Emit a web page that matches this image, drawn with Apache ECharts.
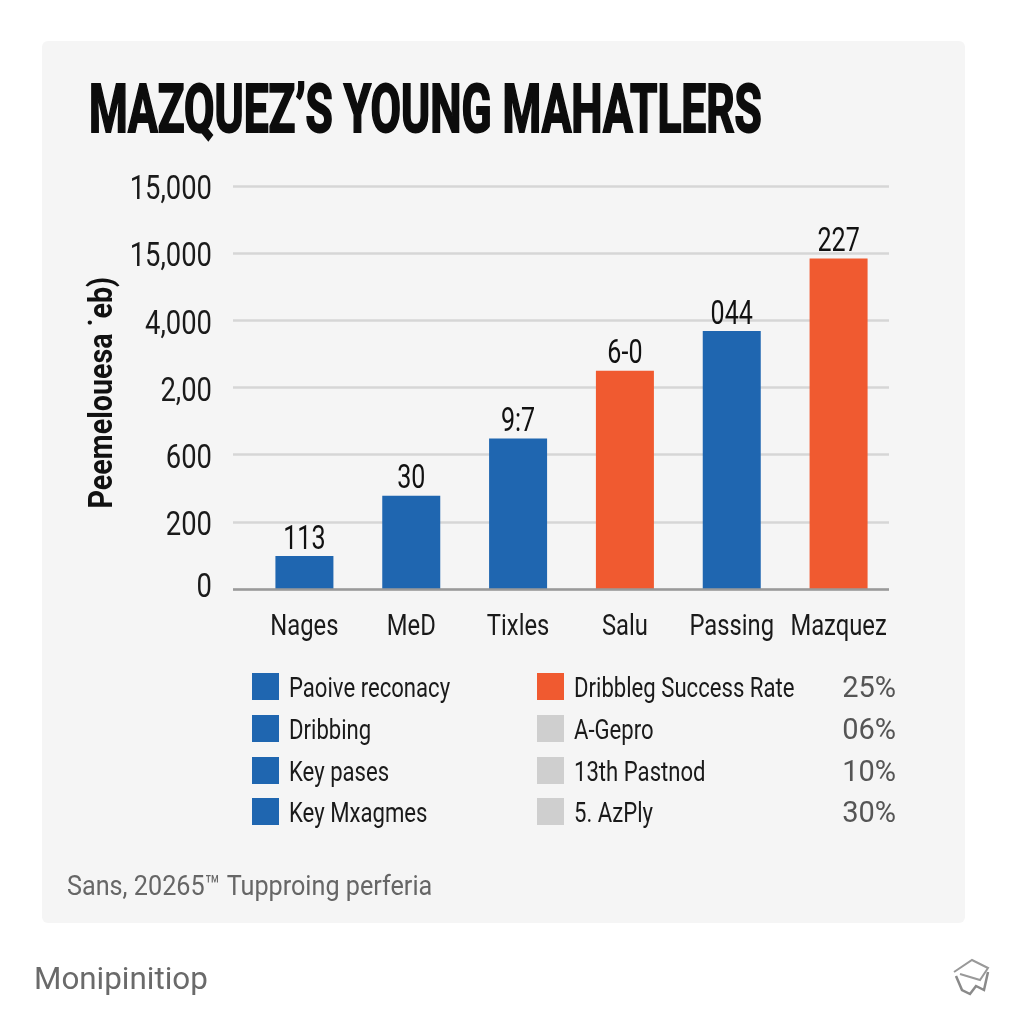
<!DOCTYPE html>
<html><head><meta charset="utf-8">
<style>html,body{margin:0;padding:0;background:#fff}#c{width:1024px;height:1024px}</style>
<script src="https://cdn.jsdelivr.net/npm/echarts@6/dist/echarts.min.js"></script>
</head><body><div id="c"></div>
<script>
const titleText = "MAZQUEZ’S YOUNG MAHATLERS";
const yAxisName = "Peemelouesa ˙eb)";
const categories = ["Nages","MeD","Tixles","Salu","Passing","Mazquez"];
const yTickLabels = ["0","200","600","2,00","4,000","15,000","15,000"];
const barValues = [0.49,1.39,2.24,3.25,3.84,4.92];
const barLabels = ["113","30","9:7","6-0","044","227"];
const barKinds = ["blue","blue","blue","orange","blue","orange"];
const legendLeft = ["Paoive reconacy","Dribbing","Key pases","Key Mxagmes"];
const legendRight = ["Dribbleg Success Rate","A-Gepro","13th Pastnod","5. AzPly"];
const legendRightKinds = ["orange","grey","grey","grey"];
const legendPercents = ["25%","06%","10%","30%"];
const sourceText = "Sans, 20265™ Tupproing perferia";
const footerText = "Monipinitiop";

const colors = {blue:"#1f66b0",orange:"#f05a30",grey:"#cfcfcf"};
const font = "Roboto,'Liberation Sans',sans-serif";
const rowY = [687,729,771,812];

const g = [];
g.push({type:'rect',z:-10,shape:{x:42,y:41,width:923,height:882,r:6},style:{fill:'#f5f5f5'}});
g.push({type:'text',x:89,y:115,scaleX:0.66,style:{text:titleText,fontFamily:font,fontWeight:'bold',fontSize:67,fill:'#0c0c0c',stroke:'#0c0c0c',lineWidth:2,textVerticalAlign:'middle'}});
function swatch(x,y,c){g.push({type:'rect',shape:{x:x,y:y-14,width:27,height:27},style:{fill:colors[c]}});}
function label(x,y,t,opt,sx){g.push({type:'text',x:x,y:y,scaleX:sx||0.79,style:Object.assign({text:t,fontFamily:font,fontSize:28,fill:'#1a1a1a',textVerticalAlign:'middle'},opt||{})});}
rowY.forEach((y,i)=>{
  swatch(252,y,'blue'); label(289,y+3,legendLeft[i]);
  swatch(537,y,legendRightKinds[i]); label(574,y+3,legendRight[i]);
  label(896,y+3,legendPercents[i],{textAlign:'right',fill:'#555',fontSize:29},1);
});
label(67,888,sourceText,{fontSize:28,fill:'#666'},0.9);
label(34,981,footerText,{fontSize:32,fill:'#6a6a6a'},0.98);
g.push({type:'polyline',shape:{points:[[954,972],[972,960],[988,968],[980,980],[960,974]]},style:{stroke:'#999',fill:null,lineWidth:2}});
g.push({type:'polyline',shape:{points:[[956,976],[962,990],[970,994],[976,986],[984,990],[988,972]]},style:{stroke:'#8a8a8a',fill:null,lineWidth:2.5}});

const chart = echarts.init(document.getElementById('c'),null,{renderer:'canvas'});
chart.setOption({
  animation:false,
  backgroundColor:'#fff',
  graphic:{elements:g},
  grid:[
    {left:233,top:186,width:656,height:403},
    {left:251,top:186,width:641,height:403}
  ],
  xAxis:[
    {gridIndex:0,type:'category',data:categories,axisLine:{show:false},axisTick:{show:false},axisLabel:{show:false}},
    {gridIndex:1,type:'category',data:categories,axisLine:{show:false},axisTick:{show:false},
     axisLabel:{fontFamily:font,fontSize:29,color:'#1a1a1a',margin:24,hideOverlap:false,interval:0}}
  ],
  yAxis:[
    {gridIndex:0,type:'value',min:0,max:6,interval:1,
     name:yAxisName,nameLocation:'middle',nameRotate:90,nameGap:130,
     nameTextStyle:{fontFamily:font,fontWeight:'bold',fontSize:33,color:'#111',padding:[0,12,0,0]},
     axisLine:{show:false},axisTick:{show:false},
     axisLabel:{fontFamily:font,fontSize:33,color:'#1a1a1a',margin:21,formatter:(v)=>yTickLabels[v]},
     splitLine:{show:true,lineStyle:{color:'#d6d6d6',width:2.5}}},
    {gridIndex:1,type:'value',min:0,max:6,interval:1,show:false}
  ],
  series:[
    {type:'bar',xAxisIndex:0,yAxisIndex:0,data:[],silent:true,
     markLine:{silent:true,symbol:'none',label:{show:false},lineStyle:{color:'#9a9a9a',width:2.5,type:'solid'},data:[{yAxis:0}]}},
    {type:'bar',xAxisIndex:1,yAxisIndex:1,barWidth:58,
     data:barValues.map((v,i)=>({value:v,itemStyle:{color:colors[barKinds[i]]}}))},
    {type:'custom',xAxisIndex:1,yAxisIndex:1,silent:true,z:5,
     data:barValues.map((v,i)=>[i,v]),
     encode:{x:0,y:1},
     renderItem:(params,api)=>{
       const p = api.coord([api.value(0),api.value(1)]);
       return {type:'text',x:p[0],y:p[1]+1,scaleX:0.76,
         style:{text:barLabels[params.dataIndex],fontFamily:font,fontSize:33,fill:'#111',textAlign:'center',textVerticalAlign:'bottom'}};
     }}
  ]
});
// The reference lettering is condensed and no condensed family is installed:
// narrow the axis text elements about their anchor points.
const narrowBy = new Map();
categories.forEach(t=>narrowBy.set(t,0.82));
yTickLabels.forEach(t=>narrowBy.set(t,0.83));
narrowBy.set(yAxisName,0.87);
chart.getZr().storage.traverse(el=>{
  const t = el.style && el.style.text;
  if(typeof t==='string' && narrowBy.has(t) && el.parent && !el.parent.isZRText){
    el.scaleX = narrowBy.get(t);
    if(yTickLabels.includes(t) && t!=="0") el.y += 5;
    if(t===yAxisName) el.x += 18;
    el.markRedraw && el.markRedraw();
  }
});
chart.getZr().refresh();
</script></body></html>
